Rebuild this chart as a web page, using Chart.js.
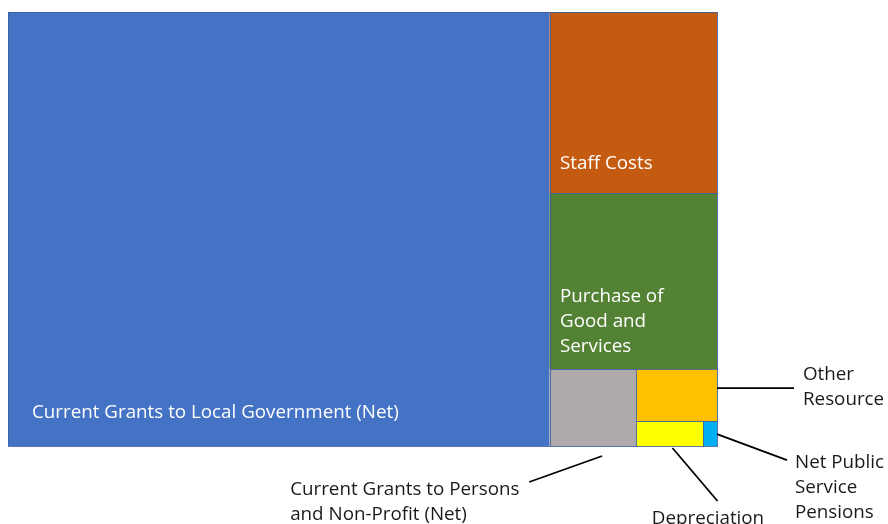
<!DOCTYPE html>
<html>
<head>
<meta charset="UTF-8">
<title>Resource expenditure treemap</title>
<script src="https://cdn.jsdelivr.net/npm/chart.js"></script>
<style>
  body { margin: 0; background: #fff; }
</style>
</head>
<body>

<canvas id="treemap" width="888" height="524"></canvas>

<script>
// datos (share of total x 1000)
const categories = [
  'Current Grants to Local Government (Net)',
  'Staff Costs',
  'Purchase of Good and Services',
  'Current Grants to Persons and Non-Profit (Net)',
  'Other Resource',
  'Depreciation',
  'Net Public Service Pensions'
];
const values = [763.7, 98.7, 95.6, 21.7, 13.7, 5.4, 1.1];
const labelLines = [
  ['Current Grants to Local Government (Net)'],
  ['Staff Costs'],
  ['Purchase of', 'Good and', 'Services'],
  ['Current Grants to Persons', 'and Non-Profit (Net)'],
  ['Other', 'Resource'],
  ['Depreciation'],
  ['Net Public', 'Service', 'Pensions']
];
const colors = ['#4472C4', '#C55A11', '#548235', '#AEAAAA', '#FFC000', '#FFFF00', '#00B0F0'];

// label placement (style only)
const insideLabels = {
  0: { padX: 24, bottom: 33 },
  1: { padX: 10.5, bottom: 30 },
  2: { padX: 10.5, bottom: 22 }
};
const callouts = {
  3: { fx: 0.607, fy: 1, sx: 0, sy: 10, dx: -73, dy: 26, align: 'left', tx: -239, ty: 8 },
  4: { fx: 1, fy: 0.365, sx: 0, sy: 0, dx: 77, dy: 0, align: 'left', tx: 9, ty: -13 },
  5: { fx: 0.54, fy: 1, sx: 0, sy: 2, dx: 45, dy: 53, align: 'center', tx: -9.5, ty: 18 },
  6: { fx: 1, fy: 0.52, sx: 0, sy: 0, dx: 70, dy: 26, align: 'left', tx: 8, ty: 3 }
};
const FONT = '18.8px "Open Sans"';
const LINE_H = 25;

// squarified layout, result in fractions of the plot (0..1)
function worst(row, side) {
  const s = row.reduce((a, b) => a + b, 0);
  let w = 0;
  for (const a of row) {
    w = Math.max(w, (side * side * a) / (s * s), (s * s) / (side * side * a));
  }
  return w;
}

function squarify(vals, W, H) {
  const total = vals.reduce((a, b) => a + b, 0);
  const items = vals.map((v, i) => ({ i, a: v * W * H / total }))
                    .sort((p, q) => q.a - p.a);
  const out = [];
  let x = 0, y = 0, w = W, h = H;
  let k = 0;
  while (k < items.length) {
    const vertical = w >= h * 1.1;
    const side = vertical ? h : w;
    const row = [items[k]];
    k++;
    while (k < items.length) {
      const cur = row.map(r => r.a);
      if (worst(cur.concat(items[k].a), side) <= worst(cur, side)) {
        row.push(items[k]);
        k++;
      } else break;
    }
    const s = row.reduce((a, r) => a + r.a, 0);
    const t = s / side;
    let pos = vertical ? y : x;
    for (const r of row) {
      const len = r.a / t;
      if (vertical) out[r.i] = { x0: x, x1: x + t, y0: pos, y1: pos + len };
      else out[r.i] = { x0: pos, x1: pos + len, y0: y, y1: y + t };
      pos += len;
    }
    if (vertical) { x += t; w -= t; } else { y += t; h -= t; }
  }
  return out.map(r => ({ x0: r.x0 / W, x1: r.x1 / W, y0: r.y0 / H, y1: r.y1 / H }));
}

const treemapPlugin = {
  id: 'treemap',
  afterDraw(chart) {
    const { ctx, chartArea: area } = chart;
    const xs = chart.scales.x, ys = chart.scales.y;
    const rects = squarify(values, area.width, area.height).map(r => {
      const left = xs.getPixelForValue(r.x0), right = xs.getPixelForValue(r.x1);
      const top = ys.getPixelForValue(r.y0), bottom = ys.getPixelForValue(r.y1);
      return { left, top, w: right - left, h: bottom - top };
    });

    ctx.save();
    rects.forEach((r, i) => {
      ctx.fillStyle = colors[i];
      ctx.fillRect(r.left, r.top, r.w, r.h);
      ctx.strokeStyle = 'rgba(60, 95, 165, 0.85)';
      ctx.lineWidth = 1;
      ctx.strokeRect(Math.round(r.left) + 0.5, Math.round(r.top) + 0.5, Math.round(r.w), Math.round(r.h));
    });

    ctx.font = FONT;
    ctx.textBaseline = 'middle';

    // labels inside the big boxes
    for (const key in insideLabels) {
      const i = +key, st = insideLabels[key], r = rects[i];
      const lines = labelLines[i];
      ctx.fillStyle = '#ffffff';
      ctx.textAlign = 'left';
      lines.forEach((ln, j) => {
        const cy = r.top + r.h - st.bottom - (lines.length - 1 - j) * LINE_H;
        ctx.fillText(ln, r.left + st.padX, cy);
      });
    }

    // callouts for the small boxes
    for (const key in callouts) {
      const i = +key, c = callouts[key], r = rects[i];
      const sx = r.left + r.w * c.fx + c.sx;
      const sy = r.top + r.h * c.fy + c.sy;
      const ex = sx + c.dx, ey = sy + c.dy;
      ctx.strokeStyle = '#000';
      ctx.lineWidth = 1.8;
      ctx.beginPath();
      ctx.moveTo(sx, sy);
      ctx.lineTo(ex, ey);
      ctx.stroke();
      ctx.fillStyle = '#1a1a1a';
      ctx.textAlign = c.align;
      labelLines[i].forEach((ln, j) => {
        ctx.fillText(ln, ex + c.tx, ey + c.ty + j * LINE_H);
      });
    }
    ctx.restore();
  }
};

const chart = new Chart(document.getElementById('treemap'), {
  type: 'scatter',
  data: { datasets: [] },
  options: {
    responsive: false,
    animation: false,
    layout: { padding: { left: 8, top: 12, right: 171, bottom: 78 } },
    plugins: { legend: { display: false }, tooltip: { enabled: false } },
    scales: {
      x: { type: 'linear', min: 0, max: 1, display: false },
      y: { type: 'linear', min: 0, max: 1, reverse: true, display: false }
    }
  },
  plugins: [treemapPlugin]
});
</script>

</body>
</html>
